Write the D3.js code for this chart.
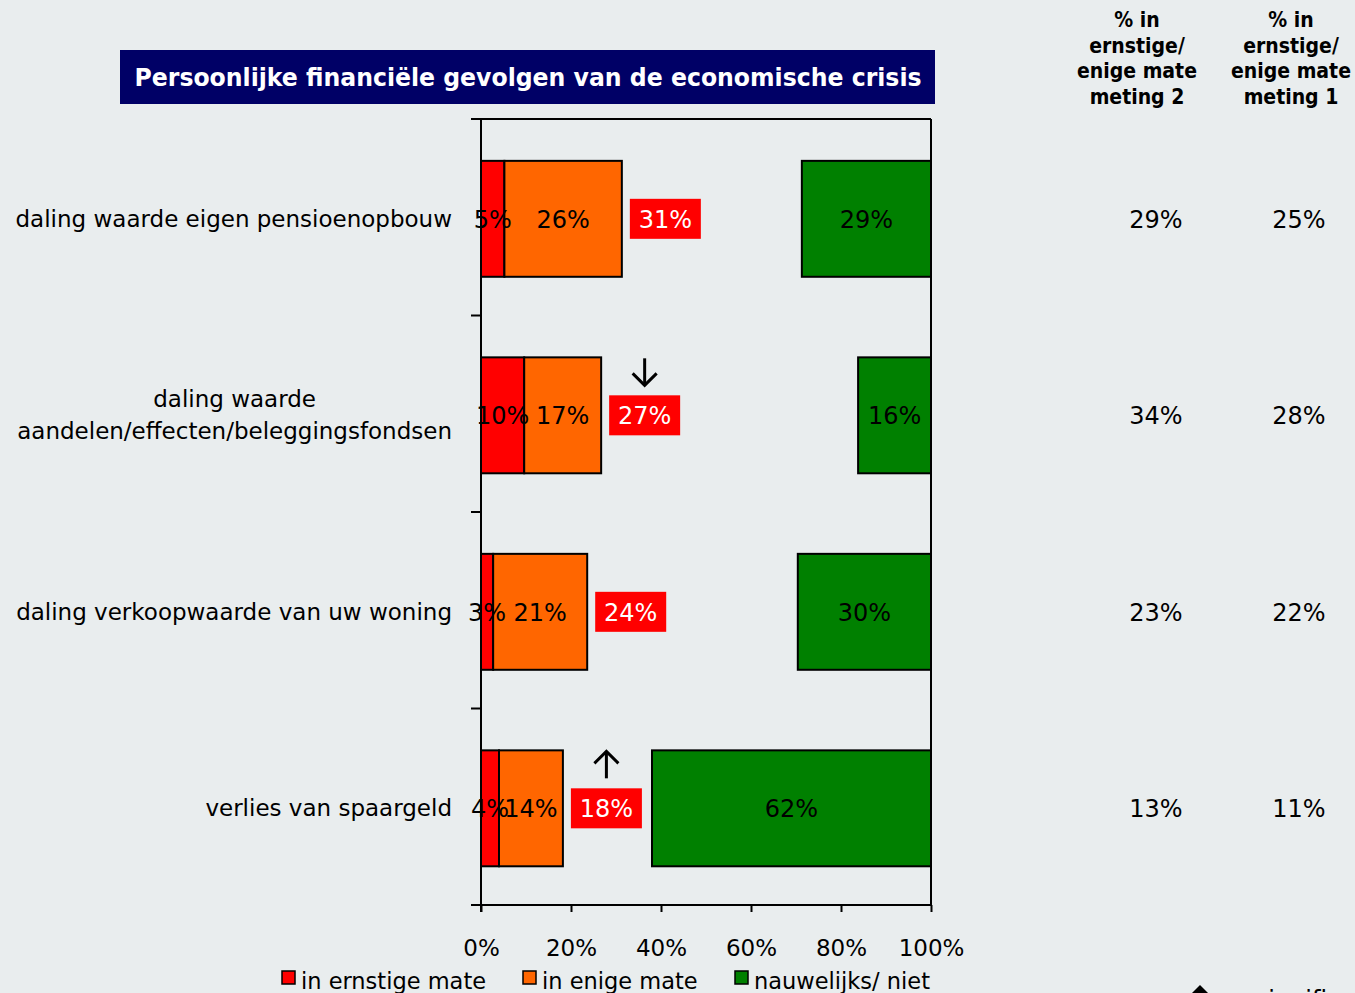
<!DOCTYPE html>
<html>
<head>
<meta charset="utf-8">
<script src="https://cdn.jsdelivr.net/npm/d3@7"></script>
<style>
  body { margin: 0; background: #e9edee; }
  svg { display: block; }
  text { font-family: "DejaVu Sans", sans-serif; }
  .bold { font-family: "DejaVu Sans Condensed", "DejaVu Sans", sans-serif; font-weight: bold; }
</style>
</head>
<body>
<div id="chart"></div>
<script>
// categories (one line per array entry)
var categories = [
    ["daling waarde eigen pensioenopbouw"],
    ["daling waarde", "aandelen/effecten/beleggingsfondsen"],
    ["daling verkoopwaarde van uw woning"],
    ["verlies van spaargeld"]
];
var ernstig = [5.2, 9.6, 2.7, 4.0];
var enig = [26.1, 17.1, 20.9, 14.2];
var nauwelijks = [28.7, 16.2, 29.6, 62.0];
// arrows next to the total: -1 down, 1 up, 0 none
var change = [0, -1, 0, 1];
var meting2 = ["29%", "34%", "23%", "13%"];
var meting1 = ["25%", "28%", "22%", "11%"];
var xTicks = [0, 20, 40, 60, 80, 100];
var legendLabels = ["in ernstige mate", "in enige mate", "nauwelijks/ niet"];
var colors = ["#ff0000", "#ff6600", "#008000"];

var width = 1355, height = 993;

var svg = d3.select("#chart")
    .append("svg")
    .attr("width", width)
    .attr("height", height);

//Plot area
var x = d3.scaleLinear().domain([0, 100]).range([481, 931]);
var y = d3.scaleBand().domain(d3.range(categories.length)).range([119, 905]).padding(0);
var bw = y.bandwidth();
var barY = function(i){ return y(i) + bw * 0.213; };
var barH = bw * 0.59;

//Title
svg.append("rect")
    .attr("x", 120).attr("y", 50)
    .attr("width", 815).attr("height", 54)
    .attr("fill", "#000066");
svg.append("text")
    .attr("class", "bold")
    .attr("x", 528).attr("y", 86)
    .attr("text-anchor", "middle")
    .attr("fill", "#fff")
    .attr("font-size", 24)
    .attr("textLength", 787)
    .attr("lengthAdjust", "spacingAndGlyphs")
    .text("Persoonlijke financiële gevolgen van de economische crisis");

//Bars
var rows = categories.map(function(c, i){
    return { i: i, a: ernstig[i], b: enig[i], g: nauwelijks[i] };
});

var g = svg.append("g");

rows.forEach(function(r){
    var segs = [
        { x0: 0, x1: r.a, v: r.a, c: colors[0] },
        { x0: r.a, x1: r.a + r.b, v: r.b, c: colors[1] },
        { x0: 100 - r.g, x1: 100, v: r.g, c: colors[2] }
    ];
    segs.forEach(function(s){
        g.append("rect")
            .attr("x", x(s.x0))
            .attr("y", barY(r.i))
            .attr("width", x(s.x1) - x(s.x0))
            .attr("height", barH)
            .attr("fill", s.c)
            .attr("stroke", "#000")
            .attr("stroke-width", 2);
    });
    segs.forEach(function(s){
        g.append("text")
            .attr("x", (x(s.x0) + x(s.x1)) / 2)
            .attr("y", barY(r.i) + barH / 2 + 9)
            .attr("text-anchor", "middle")
            .attr("font-size", 24)
            .attr("fill", "#000")
            .text(Math.round(s.v) + "%");
    });

    //Total label box
    var tot = r.a + r.b;
    var bx = x(tot) + 8;
    var cy = barY(r.i) + barH / 2;
    g.append("rect")
        .attr("x", bx).attr("y", cy - 20)
        .attr("width", 71).attr("height", 40)
        .attr("fill", "#ff0000");
    g.append("text")
        .attr("x", bx + 35.5).attr("y", cy + 9)
        .attr("text-anchor", "middle")
        .attr("font-size", 24)
        .attr("fill", "#fff")
        .text(Math.round(tot) + "%");

    if( change[r.i] !== 0 ){
        var ax = bx + 35.5;
        var top = cy - 57, bot = cy - 30;
        var tip = change[r.i] < 0 ? bot : top;
        var dir = change[r.i] < 0 ? -1 : 1;
        g.append("line")
            .attr("x1", ax).attr("x2", ax)
            .attr("y1", top).attr("y2", bot)
            .attr("stroke", "#000").attr("stroke-width", 3);
        g.append("path")
            .attr("d", "M" + (ax - 12) + "," + (tip + dir * 12) + "L" + ax + "," + tip + "L" + (ax + 12) + "," + (tip + dir * 12))
            .attr("fill", "none")
            .attr("stroke", "#000").attr("stroke-width", 3);
    }

    //Category label
    var lines = categories[r.i];
    var lab = g.append("text")
        .attr("class", "catlabel")
        .attr("font-size", 23)
        .attr("fill", "#000");
    var lh = 32;
    var startY = cy + 8 - (lines.length - 1) * lh / 2;
    lines.forEach(function(l, k){
        lab.append("tspan")
            .attr("x", 452)
            .attr("y", startY + k * lh)
            .attr("text-anchor", "end")
            .text(l);
    });

    //Right columns
    g.append("text")
        .attr("x", 1156).attr("y", cy + 9)
        .attr("text-anchor", "middle")
        .attr("font-size", 24)
        .text(meting2[r.i]);
    g.append("text")
        .attr("x", 1299).attr("y", cy + 9)
        .attr("text-anchor", "middle")
        .attr("font-size", 24)
        .text(meting1[r.i]);
});

//Center the lines of a multi-line label on the longest one
g.selectAll(".catlabel").each(function(){
    var tsp = d3.select(this).selectAll("tspan");
    if( tsp.size() < 2 ) return;
    var maxW = 0;
    tsp.each(function(){ maxW = Math.max(maxW, this.getComputedTextLength()); });
    tsp.attr("text-anchor", "middle").attr("x", 452 - maxW / 2);
});

//Axes
var axisG = svg.append("g");
axisG.append("line")
    .attr("x1", 471).attr("x2", 931).attr("y1", 119).attr("y2", 119)
    .attr("stroke", "#000").attr("stroke-width", 2);
axisG.append("line")
    .attr("x1", 931).attr("x2", 931).attr("y1", 119).attr("y2", 905)
    .attr("stroke", "#000").attr("stroke-width", 2);

var yBounds = d3.range(categories.length + 1).map(function(k){ return 119 + k * bw; });
axisG.selectAll(".ytick")
    .data(yBounds)
    .enter().append("line")
    .attr("x1", 471).attr("x2", 481)
    .attr("y1", function(d){ return d; }).attr("y2", function(d){ return d; })
    .attr("stroke", "#000").attr("stroke-width", 2);
axisG.append("line")
    .attr("x1", 481).attr("x2", 481).attr("y1", 119).attr("y2", 912)
    .attr("stroke", "#000").attr("stroke-width", 2);

var xAxis = d3.axisBottom(x)
    .tickValues(xTicks)
    .tickSize(7)
    .tickPadding(28)
    .tickFormat(function(d){ return d + "%"; });

var xg = svg.append("g")
    .attr("transform", "translate(0,905)")
    .call(xAxis);
xg.select(".domain").remove();
xg.selectAll(".tick line").attr("stroke", "#000").attr("stroke-width", 2);
xg.selectAll(".tick text")
    .attr("font-size", 23)
    .attr("font-family", "DejaVu Sans, sans-serif")
    .attr("fill", "#000");
axisG.append("line")
    .attr("x1", 471).attr("x2", 931).attr("y1", 905).attr("y2", 905)
    .attr("stroke", "#000").attr("stroke-width", 2);

//Column headers
var headers = [
    { x: 1137, lines: ["% in", "ernstige/", "enige mate", "meting 2"] },
    { x: 1291, lines: ["% in", "ernstige/", "enige mate", "meting 1"] }
];
headers.forEach(function(h){
    var t = svg.append("text")
        .attr("class", "bold")
        .attr("font-size", 21)
        .attr("text-anchor", "middle");
    h.lines.forEach(function(l, k){
        t.append("tspan")
            .attr("x", h.x)
            .attr("y", 27 + k * 25.7)
            .text(l);
    });
});

//Legend
var legX = [282, 523, 735];
legendLabels.forEach(function(l, k){
    svg.append("rect")
        .attr("x", legX[k]).attr("y", 971)
        .attr("width", 13).attr("height", 13)
        .attr("fill", colors[k])
        .attr("stroke", "#000").attr("stroke-width", 1.5);
    svg.append("text")
        .attr("x", legX[k] + 19).attr("y", 989)
        .attr("font-size", 22.5)
        .text(l);
});

//Note about arrows, cut off at the bottom edge as in the original
svg.append("path")
    .attr("d", "M1188,997L1200,985L1212,997")
    .attr("fill", "#000");
svg.append("line")
    .attr("x1", 1200).attr("x2", 1200).attr("y1", 990).attr("y2", 1010)
    .attr("stroke", "#000").attr("stroke-width", 3);
svg.append("text")
    .attr("x", 1228).attr("y", 1008)
    .attr("font-size", 24)
    .text("= significant");
</script>
</body>
</html>
